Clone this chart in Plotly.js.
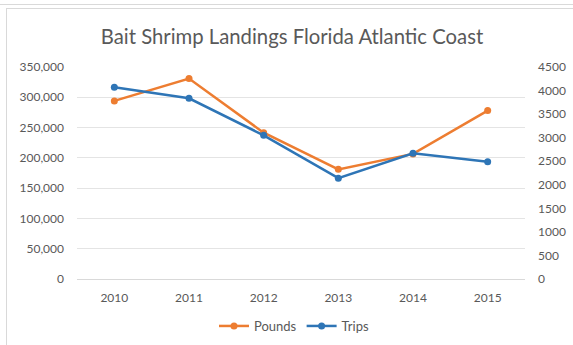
<!DOCTYPE html>
<html>
<head>
<meta charset="utf-8">
<script src="https://cdn.plot.ly/plotly-3.0.1.min.js"></script>
<style>
html,body{margin:0;padding:0;background:#fff;}
#wrap{position:relative;width:573px;height:345px;overflow:hidden;}
#chart{position:absolute;left:0;top:0;width:573px;height:345px;}
.ln{position:absolute;background:#d9d9d9;}
</style>
</head>
<body>
<div id="wrap">
<div id="chart"></div>
<div class="ln" style="left:0;top:4px;width:573px;height:1px;"></div>
<div class="ln" style="left:6px;top:8px;width:567px;height:1px;"></div>
<div class="ln" style="left:6px;top:8px;width:1px;height:337px;"></div>
</div>
<script>
const years = ['2010','2011','2012','2013','2014','2015'];
const pounds = [294000, 331000, 241500, 181000, 206500, 278000];
const trips = [4070, 3835, 3050, 2140, 2670, 2490];
const leftTicks = [0,50000,100000,150000,200000,250000,300000,350000];
const rightTicks = [0,500,1000,1500,2000,2500,3000,3500,4000,4500];

const orange = '#ED7D31';
const blue = '#2E75B6';
const txt = '#595959';
const fnt = 'Lato, "Open Sans", sans-serif';

const data = [
  {x: years, y: pounds, name: 'Pounds', type: 'scatter', mode: 'lines+markers',
   line: {color: orange, width: 2.5}, marker: {color: orange, size: 7}, yaxis: 'y'},
  {x: years, y: trips, name: 'Trips', type: 'scatter', mode: 'lines+markers',
   line: {color: blue, width: 2.5}, marker: {color: blue, size: 7}, yaxis: 'y2'}
];

const layout = {
  width: 573, height: 345,
  margin: {l: 77, r: 48, t: 67, b: 66, pad: 0, autoexpand: false},
  paper_bgcolor: 'rgba(0,0,0,0)', plot_bgcolor: 'rgba(0,0,0,0)',
  font: {family: fnt, color: txt, size: 12},
  title: {text: 'Bait Shrimp Landings Florida Atlantic Coast', x: 292/573, xanchor: 'center',
          y: 1 - 37/345, yanchor: 'middle', yref: 'container',
          font: {family: fnt, size: 20.3, color: txt}},
  xaxis: {type: 'category', range: [-0.5, 5.5], showgrid: false, zeroline: false,
          showline: true, linecolor: '#d9d9d9', linewidth: 1, ticks: '',
          ticklabelstandoff: 8, tickfont: {size: 12, color: txt}, fixedrange: true},
  yaxis: {range: [0, 350000], tickvals: leftTicks, tickformat: ',', showgrid: true,
          gridcolor: '#e4e4e4', gridwidth: 1, zeroline: false, showline: false, ticks: '',
          ticklabelstandoff: 12, tickfont: {size: 12, color: txt}, fixedrange: true},
  yaxis2: {range: [0, 4500], tickvals: rightTicks, overlaying: 'y', side: 'right',
           showgrid: false, zeroline: false, showline: false, ticks: '',
           ticklabelstandoff: 12, tickfont: {size: 12, color: txt}, fixedrange: true},
  showlegend: true,
  legend: {orientation: 'h', x: (294-77)/448, xanchor: 'center', y: -(326-279)/212, yanchor: 'middle',
           font: {size: 13, color: txt}, itemwidth: 30, tracegroupgap: 0},
  hovermode: false
};

Plotly.newPlot('chart', data, layout, {displayModeBar: false, staticPlot: true});
</script>
</body>
</html>
